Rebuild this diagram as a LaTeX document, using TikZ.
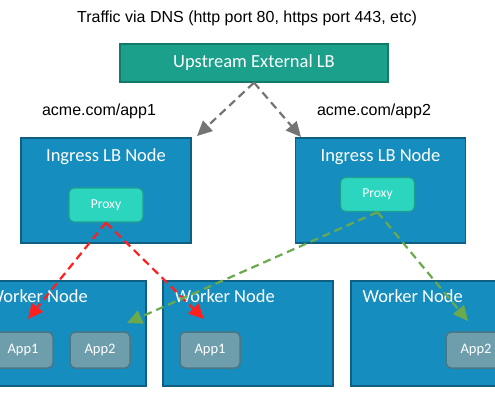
\documentclass[tikz,border=0pt]{standalone}
\usepackage{fontspec}
\setmainfont{Liberation Sans}
\newfontfamily\boxfont{Carlito}
\usepackage{tikz}
\usetikzlibrary{arrows.meta}

\definecolor{lbteal}{HTML}{1BA08B}
\definecolor{lbtealdark}{HTML}{137A69}
\definecolor{nodeblue}{HTML}{168DBF}
\definecolor{nodebluedark}{HTML}{0E5F82}
\definecolor{proxygreen}{HTML}{2BD5BE}
\definecolor{proxydark}{HTML}{1FA08E}
\definecolor{appgray}{HTML}{6E9EAC}
\definecolor{appdark}{HTML}{4B7784}
\definecolor{arrowgray}{HTML}{747474}
\definecolor{arrowred}{HTML}{FF1F1F}
\definecolor{arrowgreen}{HTML}{6BAA4C}

\tikzset{
    upstream/.style={draw=lbtealdark, line width=1.2pt, fill=lbteal, minimum width=268pt, minimum height=38pt, text=white, font=\boxfont\fontsize{18.5}{20}\selectfont},
    hostbox/.style={draw=nodebluedark, line width=1.2pt, fill=nodeblue, minimum width=170pt, minimum height=105pt},
    hosttitle/.style={text=white, font=\boxfont\fontsize{18.5}{20}\selectfont, inner sep=0pt},
    proxybox/.style={draw=proxydark, line width=1.2pt, fill=proxygreen, rounded corners=5pt, minimum width=74pt, minimum height=34pt, text=white, font=\boxfont\fontsize{13.6}{15}\selectfont},
    appbox/.style={draw=appdark, line width=1.5pt, fill=appgray, rounded corners=5pt, minimum width=60pt, minimum height=36pt, text=white, font=\boxfont\fontsize{14.5}{16}\selectfont},
    label/.style={font=\fontsize{16}{18}\selectfont, inner sep=0pt},
    flow/.style={line width=2.2pt, dash pattern=on 8pt off 5pt, -{Triangle[length=15pt, width=14pt]}},
}

\begin{document}
\begin{tikzpicture}[x=1pt, y=-1pt]
        \useasboundingbox (0,0) rectangle (495,400);

        % Nodes
        \node[label] (traffic) at (247,18) {Traffic via DNS (http port 80, https port 443, etc)};
        \node[upstream] (upstream) at (254,63) {Upstream External LB};
        \node[label] (url1) at (99,111) {acme.com/app1};
        \node[label] (url2) at (374,111) {acme.com/app2};

        \node[hostbox] (ingress1) at (106,190.5) {};
        \node[hosttitle, anchor=north] (ingress1title) at ([yshift=-11pt]ingress1.north) {Ingress LB Node};
        \node[proxybox] (proxy1) at (106,205) {Proxy};

        \node[hostbox] (ingress2) at (380.5,190.5) {};
        \node[hosttitle, anchor=north] (ingress2title) at ([yshift=-11pt]ingress2.north) {Ingress LB Node};
        \node[proxybox] (proxy2) at (377.5,194.5) {Proxy};

        \node[hostbox] (worker1) at (61,333.5) {};
        \node[hostbox] (worker2) at (248,333.5) {};
        \node[hostbox] (worker3) at (436,333.5) {};
        \node[hosttitle, anchor=north west] (worker1title) at ([xshift=12pt, yshift=-9pt]worker1.north west) {Worker Node};
        \node[hosttitle, anchor=north west] (worker2title) at ([xshift=12pt, yshift=-9pt]worker2.north west) {Worker Node};
        \node[hosttitle, anchor=north west] (worker3title) at ([xshift=12pt, yshift=-9pt]worker3.north west) {Worker Node};

        \node[appbox] (app1a) at (23,350) {App1};
        \node[appbox] (app2a) at (100,350) {App2};
        \node[appbox] (app1b) at (210,350) {App1};
        \node[appbox] (app2c) at (476,350) {App2};

        % Arrow ends
        \coordinate (ingress1in) at (197,136);
        \coordinate (ingress2in) at (301,137);
        \coordinate (app1ain) at (28,319);
        \coordinate (app1bin) at (204,319);
        \coordinate (app2ain) at (127,323);
        \coordinate (app2cin) at (468,321);

        % Lines
        \draw[flow, arrowgray] (upstream.south) -- (ingress1in);
        \draw[flow, arrowgray] (upstream.south) -- (ingress2in);
        \draw[flow, arrowred] (proxy1.south) -- (app1ain);
        \draw[flow, arrowred] (proxy1.south) -- (app1bin);
        \draw[flow, arrowgreen] (proxy2.south) -- (app2ain);
        \draw[flow, arrowgreen] (proxy2.south) -- (app2cin);
    \end{tikzpicture}
\end{document}
